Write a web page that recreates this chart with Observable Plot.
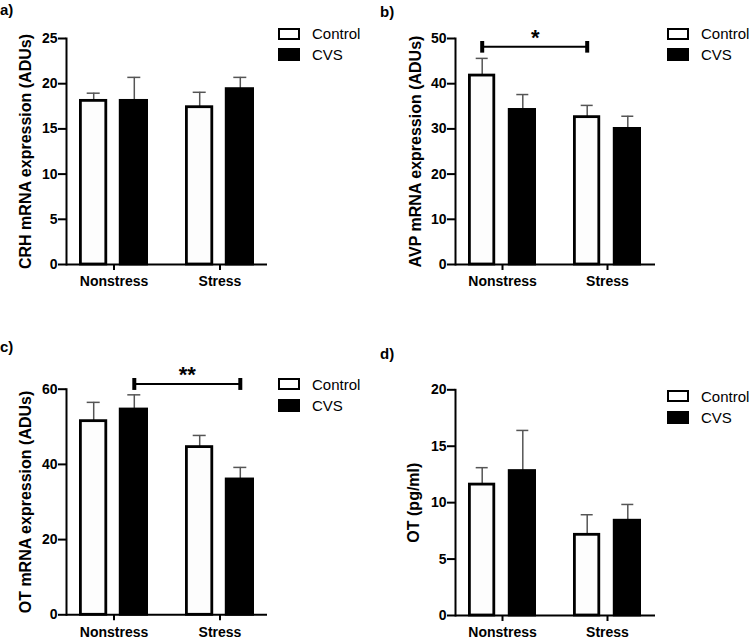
<!DOCTYPE html>
<html><head><meta charset="utf-8">
<script src="https://cdn.jsdelivr.net/npm/d3@7"></script>
<script src="https://cdn.jsdelivr.net/npm/@observablehq/plot@0.6"></script>
<style>
body{margin:0;background:#fff;}
#wrap{position:relative;width:750px;height:639px;font-family:"Liberation Sans",Arial,sans-serif;color:#000;overflow:hidden;}
.panel{position:absolute;}
.plabel{position:absolute;font-weight:bold;font-size:15px;line-height:15px;}
.legend{position:absolute;font-size:15px;}
.legend .row{display:flex;align-items:center;height:21px;}
.sw{box-sizing:border-box;width:22px;margin-right:12px;}
.sw.ctrl{height:12px;border:2.5px solid #000;background:#fff;}
.sw.cvs{height:13px;background:#000;}
</style></head>
<body>
<div id="wrap"></div>
<script>
// ---- data ----
const groups = ["Nonstress", "Stress"];
const series = ["Control", "CVS"];

// a) CRH mRNA expression (ADUs)
const crhControl = [18.1, 17.4];
const crhControlSem = [0.85, 1.65];
const crhCVS = [18.1, 19.4];
const crhCVSSem = [2.6, 1.3];
const crhTicks = [0, 5, 10, 15, 20, 25];

// b) AVP mRNA expression (ADUs)
const avpControl = [41.8, 32.6];
const avpControlSem = [3.8, 2.6];
const avpCVS = [34.2, 30.0];
const avpCVSSem = [3.4, 2.8];
const avpTicks = [0, 10, 20, 30, 40, 50];
const avpBracket = [{from: "Nonstress", to: "Stress", series: "Control", y: 48.2, label: "*"}];

// c) OT mRNA expression (ADUs)
const otControl = [51.5, 44.6];
const otControlSem = [5.0, 3.1];
const otCVS = [54.6, 36.0];
const otCVSSem = [3.9, 3.2];
const otTicks = [0, 20, 40, 60];
const otBracket = [{from: "Nonstress", to: "Stress", series: "CVS", y: 61.4, label: "**"}];

// d) OT (pg/ml)
const otpControl = [11.6, 7.15];
const otpControlSem = [1.5, 1.78];
const otpCVS = [12.8, 8.4];
const otpCVSSem = [3.6, 1.44];
const otpTicks = [0, 5, 10, 15, 20];

const panels = [
  {id: "a)", title: "CRH mRNA expression (ADUs)", ctrl: crhControl, ctrlSem: crhControlSem, cvs: crhCVS, cvsSem: crhCVSSem, ticks: crhTicks, bracket: [],
   left: 0, top: 0, h: 300, ml: 66, mr: 108, mt: 38, mb: 36, titleDx: -41, lab: [0, 2], leg: [278, 23]},
  {id: "b)", title: "AVP mRNA expression (ADUs)", ctrl: avpControl, ctrlSem: avpControlSem, cvs: avpCVS, cvsSem: avpCVSSem, ticks: avpTicks, bracket: avpBracket,
   left: 375, top: 0, h: 300, ml: 80, mr: 95, mt: 38, mb: 36, titleDx: -40, lab: [380, 4], leg: [667, 23]},
  {id: "c)", title: "OT mRNA expression (ADUs)", ctrl: otControl, ctrlSem: otControlSem, cvs: otCVS, cvsSem: otCVSSem, ticks: otTicks, bracket: otBracket,
   left: 0, top: 330, h: 309, ml: 66, mr: 108, mt: 58.7, mb: 24.7, titleDx: -41, lab: [0, 339], leg: [278, 373.5]},
  {id: "d)", title: "OT (pg/ml)", ctrl: otpControl, ctrlSem: otpControlSem, cvs: otpCVS, cvsSem: otpCVSSem, ticks: otpTicks, bracket: [],
   left: 375, top: 330, h: 309, ml: 80, mr: 95, mt: 59.3, mb: 24, titleDx: -42, lab: [380, 346], leg: [667, 385.5]}
];

const OFF = 20.3; // pixel offset of each bar's centre from its group centre

function makePanel(p) {
  const ctrlRows = groups.map((g, i) => ({group: g, value: p.ctrl[i], sem: p.ctrlSem[i]}));
  const cvsRows = groups.map((g, i) => ({group: g, value: p.cvs[i], sem: p.cvsSem[i]}));
  const errTop = d => d.value + d.sem;
  const marks = [
    Plot.ruleX(ctrlRows, {x: "group", y1: "value", y2: errTop, dx: -OFF, stroke: "#555", strokeWidth: 1.5}),
    Plot.tickY(ctrlRows, {x: "group", y: errTop, dx: -OFF, insetLeft: 28, insetRight: 28, stroke: "#555", strokeWidth: 1.5}),
    Plot.ruleX(cvsRows, {x: "group", y1: "value", y2: errTop, dx: OFF, stroke: "#555", strokeWidth: 1.5}),
    Plot.tickY(cvsRows, {x: "group", y: errTop, dx: OFF, insetLeft: 28, insetRight: 28, stroke: "#555", strokeWidth: 1.5}),
    Plot.barY(ctrlRows, {x: "group", y: "value", fill: "#fdfdfd", stroke: "#000", strokeWidth: 2.8, insetLeft: 1.4, insetRight: 42.2}),
    Plot.barY(cvsRows, {x: "group", y: "value", fill: "#000", stroke: "#000", strokeWidth: 2.8, insetLeft: 41.2, insetRight: 1.4}),
    Plot.frame({anchor: "left", stroke: "#000", strokeWidth: 2}),
    Plot.ruleY([0], {stroke: "#000", strokeWidth: 2}),
    Plot.axisY(p.ticks, {tickSize: 8, tickPadding: 1, strokeWidth: 2, label: null, fontSize: 14, fontWeight: "bold"}),
    Plot.axisX({tickSize: 6, tickPadding: 6, strokeWidth: 2, label: null, fontSize: 14, fontWeight: "bold"}),
    Plot.text([p.title], {text: d => d, frameAnchor: "left", textAnchor: "middle", lineAnchor: "middle", rotate: -90, dx: p.titleDx, fontSize: 16, fontWeight: "bold"})
  ];
  if (p.bracket.length) {
    const s = p.bracket[0].series === "Control" ? -OFF : OFF;
    marks.push(
      Plot.link(p.bracket, {x1: "from", x2: "to", y1: "y", y2: "y", dx: s, stroke: "#000", strokeWidth: 2, markerStart: "tick", markerEnd: "tick"}),
      Plot.text(p.bracket, {x: "from", y: "y", text: "label", dx: 53 + s, dy: -9, fontSize: 22, fontWeight: "bold"})
    );
  }
  return Plot.plot({
    width: 375, height: p.h,
    marginLeft: p.ml, marginRight: p.mr, marginTop: p.mt, marginBottom: p.mb,
    x: {domain: groups, paddingInner: 0.35, paddingOuter: 0.123, label: null},
    y: {domain: [p.ticks[0], p.ticks[p.ticks.length - 1]], label: null},
    style: {fontFamily: '"Liberation Sans", Arial, sans-serif', fontSize: "14px", color: "#000", background: "transparent", overflow: "visible"},
    marks
  });
}

const wrap = document.getElementById("wrap");
for (const p of panels) {
  const svg = makePanel(p);
  const holder = document.createElement("div");
  holder.className = "panel";
  holder.style.left = p.left + "px";
  holder.style.top = p.top + "px";
  holder.appendChild(svg);
  wrap.appendChild(holder);

  const lab = document.createElement("div");
  lab.className = "plabel";
  lab.style.left = p.lab[0] + "px";
  lab.style.top = p.lab[1] + "px";
  lab.textContent = p.id;
  wrap.appendChild(lab);

  const leg = document.createElement("div");
  leg.className = "legend";
  leg.style.left = p.leg[0] + "px";
  leg.style.top = p.leg[1] + "px";
  leg.innerHTML = series.map((s, i) => `<div class="row"><span class="sw ${i === 0 ? "ctrl" : "cvs"}"></span><span>${s}</span></div>`).join("");
  wrap.appendChild(leg);
}
</script>
</body></html>
